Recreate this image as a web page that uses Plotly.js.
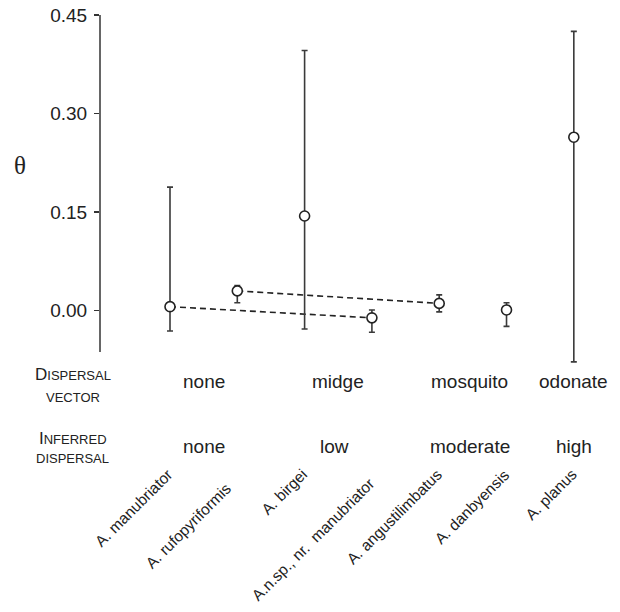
<!DOCTYPE html>
<html>
<head>
<meta charset="utf-8">
<script src="https://cdn.plot.ly/plotly-3.0.1.min.js"></script>
<style>html,body{margin:0;padding:0;background:#fff;}</style>
</head>
<body>
<div id="chart" style="width:620px;height:612px;"></div>
<script>
// ---- data ----
const species = ["A. manubriator", "A. rufopyriformis", "A. birgei",
  "A.n.sp., nr.\u00a0\u00a0manubriator", "A. angustilimbatus", "A. danbyensis", "A. planus"];
const theta = [0.006, 0.030, 0.144, -0.011, 0.011, 0.001, 0.264];
const upperCI = [0.188, 0.038, 0.396, 0.001, 0.024, 0.012, 0.425];
const lowerCI = [-0.031, 0.012, -0.028, -0.033, -0.002, -0.024, -0.078];
const linkedPairs = [[0, 3], [1, 4]];
const vectorLabels = ["none", "midge", "mosquito", "odonate"];
const vectorPos = [0.5, 2.5, 4.45, 6];
const dispersalLabels = ["none", "low", "moderate", "high"];
const dispersalPos = [0.5, 2.45, 4.45, 6];
const yTicks = [0, 0.15, 0.30, 0.45];

// ---- build ----
const xIdx = species.map((_, i) => i);
const FONT = "Liberation Sans, Arial, Helvetica, sans-serif";
const INK = "#222";
const AXIS_MIN = -0.063, AXIS_MAX = 0.45;

const traces = [];
linkedPairs.forEach(p => {
  traces.push({
    type: "scatter", mode: "lines",
    x: [p[0], p[1]], y: [theta[p[0]], theta[p[1]]],
    line: {color: INK, width: 1.6, dash: "6px,4px"},
    hoverinfo: "skip", showlegend: false
  });
});
traces.push({
  type: "scatter", mode: "markers",
  x: xIdx, y: theta,
  cliponaxis: false,
  error_y: {
    type: "data", symmetric: false,
    array: upperCI.map((u, i) => u - theta[i]),
    arrayminus: theta.map((t, i) => t - lowerCI[i]),
    color: "#3a3a3a", thickness: 1.6, width: 3
  },
  marker: {symbol: "circle", size: 10, color: "#fff", line: {color: INK, width: 1.6}},
  showlegend: false
});

// plot area geometry (pixels) for paper-y conversion
const TOP = 15, BOTTOM = 366;
const py = p => (BOTTOM - p) / (BOTTOM - TOP);

const annotations = [];
annotations.push({xref: "paper", yref: "paper", x: -0.155, y: py(165), text: "θ",
  showarrow: false, font: {family: "Liberation Serif, Times New Roman, serif", size: 25, color: INK},
  xanchor: "center", yanchor: "middle"});

function smallCaps(big, rest) {
  return (big ? '<span style="font-size:17px">' + big + '</span>' : '') + rest;
}
const leftX = -0.053;
annotations.push({xref: "paper", yref: "paper", x: leftX, y: py(374), text: smallCaps("D", "ISPERSAL"),
  showarrow: false, font: {family: FONT, size: 13, color: INK}, xanchor: "center", yanchor: "middle"});
annotations.push({xref: "paper", yref: "paper", x: leftX, y: py(397), text: "VECTOR",
  showarrow: false, font: {family: FONT, size: 13, color: INK}, xanchor: "center", yanchor: "middle"});
annotations.push({xref: "paper", yref: "paper", x: leftX, y: py(438), text: smallCaps("I", "NFERRED"),
  showarrow: false, font: {family: FONT, size: 13, color: INK}, xanchor: "center", yanchor: "middle"});
annotations.push({xref: "paper", yref: "paper", x: leftX, y: py(458), text: "DISPERSAL",
  showarrow: false, font: {family: FONT, size: 13, color: INK}, xanchor: "center", yanchor: "middle"});

vectorLabels.forEach((t, i) => annotations.push({xref: "x", yref: "paper", x: vectorPos[i], y: py(381),
  text: t, showarrow: false, font: {family: FONT, size: 19, color: INK}, xanchor: "center", yanchor: "middle"}));
dispersalLabels.forEach((t, i) => annotations.push({xref: "x", yref: "paper", x: dispersalPos[i], y: py(446),
  text: t, showarrow: false, font: {family: FONT, size: 19, color: INK}, xanchor: "center", yanchor: "middle"}));

species.forEach((t, i) => {
  const stagger = (i === 1 || i === 3);
  annotations.push({xref: "x", yref: "paper", x: i, y: py(463),
    text: t, showarrow: false, textangle: -45, xanchor: "right", yanchor: "top",
    xshift: stagger ? (i === 1 ? 0 : 8) : 9, yshift: stagger ? (i === 1 ? -14 : -9) : 0,
    font: {family: FONT, size: 15.5, color: INK}});
});

const layout = {
  width: 620, height: 612,
  margin: {l: 100, r: 6, t: TOP, b: 612 - BOTTOM},
  paper_bgcolor: "#fff", plot_bgcolor: "#fff",
  showlegend: false,
  font: {family: FONT, color: INK},
  xaxis: {range: [-1.04, 6.597], showgrid: false, zeroline: false, showline: false,
    showticklabels: false, ticks: "", fixedrange: true},
  yaxis: {range: [AXIS_MIN - (BOTTOM - 352) / 656.7, AXIS_MAX], tickvals: yTicks, tickformat: ".2f",
    ticks: "outside", ticklen: 5, tickwidth: 1.5, tickcolor: "#333",
    showline: false, showgrid: false, zeroline: false, ticklabelstandoff: 3,
    tickfont: {family: FONT, size: 19, color: INK}, fixedrange: true},
  shapes: [{type: "line", xref: "paper", yref: "y", x0: 0, x1: 0, y0: AXIS_MIN, y1: AXIS_MAX,
    line: {color: "#333", width: 1.5}}],
  annotations: annotations
};

Plotly.newPlot("chart", traces, layout, {displayModeBar: false, staticPlot: true});
</script>
</body>
</html>
